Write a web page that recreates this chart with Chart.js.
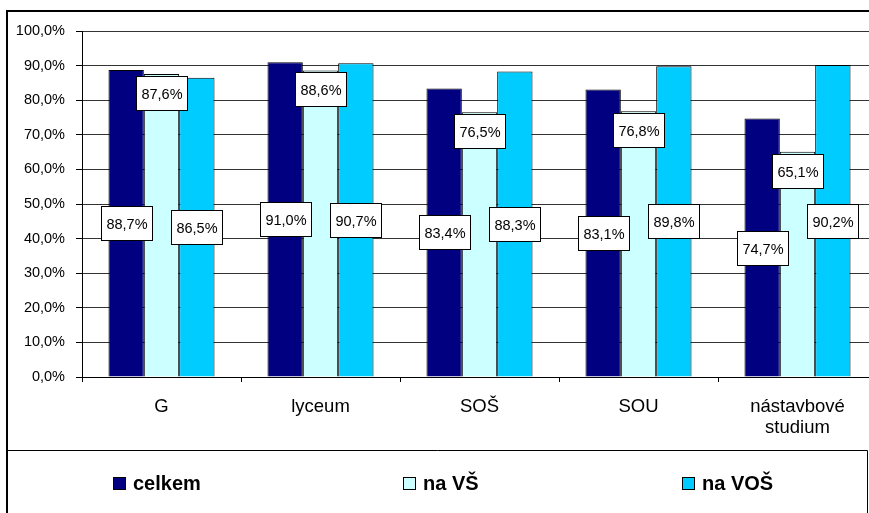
<!DOCTYPE html>
<html>
<head>
<meta charset="utf-8">
<script src="https://cdn.jsdelivr.net/npm/chart.js@4.4.0/dist/chart.umd.min.js"></script>
<style>
  html, body { margin: 0; padding: 0; background: #fff; overflow: hidden; }
  #wrap { width: 869px; height: 513px; overflow: hidden; position: relative; }
  canvas { position: absolute; left: 0; top: 0; }
</style>
</head>
<body>
<div id="wrap"><canvas id="graf" width="880" height="513"></canvas></div>
<script>
// data
const kategorie = ['G', 'lyceum', 'SOŠ', 'SOU', ['nástavbové', 'studium']];
const celkem = [88.7, 91.0, 83.4, 83.1, 74.7];
const naVS = [87.6, 88.6, 76.5, 76.8, 65.1];
const naVOS = [86.5, 90.7, 88.3, 89.8, 90.2];
const nazvyRad = ['celkem', 'na VŠ', 'na VOŠ'];
const barvy = ['#000080', '#CCFFFF', '#00CCFF'];

const pismo = "'Liberation Sans', Arial, sans-serif";

const fmt = v => v.toFixed(1).replace('.', ',') + '%';

// popisky hodnot v rámečcích
const popisky = {
  id: 'popisky',
  afterDatasetsDraw(chart) {
    const ctx = chart.ctx;
    ctx.save();
    ctx.font = '14.5px ' + pismo;
    ctx.textAlign = 'center';
    ctx.textBaseline = 'middle';
    chart.data.datasets.forEach((ds, i) => {
      chart.getDatasetMeta(i).data.forEach((bar, j) => {
        const txt = fmt(ds.data[j]);
        const w = Math.round(ctx.measureText(txt).width) + 10;
        const h = 34;
        const cy = i === 1 ? bar.y + 2 + h / 2 : (bar.y + bar.base) / 2;
        const x0 = Math.round(bar.x - w / 2) + 0.5;
        const y0 = Math.round(cy - h / 2) + 0.5;
        ctx.fillStyle = '#fff';
        ctx.fillRect(x0, y0, w, h);
        ctx.strokeStyle = '#000';
        ctx.lineWidth = 1;
        ctx.strokeRect(x0, y0, w, h);
        ctx.fillStyle = '#000';
        ctx.fillText(txt, x0 + w / 2, y0 + h / 2 + 1);
      });
    });
    ctx.restore();
  }
};

// legenda a rámeček grafu
const ramecek = {
  id: 'ramecek',
  afterDraw(chart) {
    const ctx = chart.ctx;
    ctx.save();
    ctx.strokeStyle = '#000';
    ctx.lineWidth = 2;
    ctx.strokeRect(7, 11, 868, 520);
    ctx.lineWidth = 1;
    ctx.beginPath();
    ctx.moveTo(7, 450.5);
    ctx.lineTo(867.5, 450.5);
    ctx.lineTo(867.5, 520);
    ctx.stroke();
    const xs = [113, 403, 682];
    ctx.font = 'bold 20px ' + pismo;
    ctx.textBaseline = 'middle';
    ctx.textAlign = 'left';
    chart.data.datasets.forEach((ds, i) => {
      ctx.fillStyle = ds.backgroundColor;
      ctx.fillRect(xs[i] + 0.5, 477.5, 12, 12);
      ctx.strokeStyle = '#000';
      ctx.strokeRect(xs[i] + 0.5, 477.5, 12, 12);
      ctx.fillStyle = '#000';
      ctx.fillText(ds.label, xs[i] + 20, 484);
    });
    ctx.restore();
  }
};

new Chart(document.getElementById('graf'), {
  type: 'bar',
  data: {
    labels: kategorie,
    datasets: [celkem, naVS, naVOS].map((d, i) => ({
      label: nazvyRad[i],
      data: d,
      backgroundColor: barvy[i],
      borderColor: '#000',
      borderWidth: 1,
      categoryPercentage: 0.667,
      barPercentage: 1.0
    }))
  },
  options: {
    responsive: false,
    animation: false,
    devicePixelRatio: 1,
    layout: { padding: { top: 31, left: 0, right: 3, bottom: 0 } },
    plugins: {
      legend: { display: false },
      tooltip: { enabled: false }
    },
    scales: {
      x: {
        afterFit: s => { s.height = 136; },
        grid: { drawOnChartArea: false, color: '#000', tickLength: 5 },
        border: { color: '#000', width: 1 },
        ticks: {
          color: '#000',
          font: { family: pismo, size: 18.5, lineHeight: 1.1 },
          padding: 15,
          maxRotation: 0
        }
      },
      y: {
        min: 0,
        max: 100,
        afterFit: s => { s.width = 82; },
        grid: { color: '#333', tickColor: '#000', tickLength: 6 },
        border: { color: '#000', width: 1 },
        ticks: {
          stepSize: 10,
          color: '#000',
          font: { family: pismo, size: 14.5 },
          padding: 11,
          callback: v => fmt(v)
        }
      }
    }
  },
  plugins: [popisky, ramecek]
});
</script>
</body>
</html>
